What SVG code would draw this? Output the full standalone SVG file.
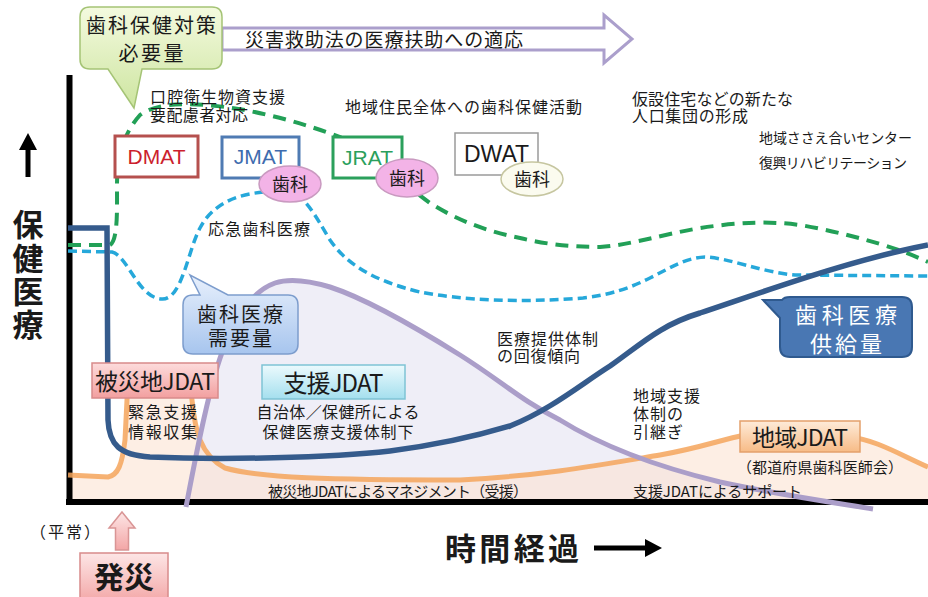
<svg xmlns="http://www.w3.org/2000/svg" width="928" height="597" viewBox="0 0 928 597">
<defs>
<linearGradient id="gGreen" x1="0" y1="0" x2="0" y2="1"><stop offset="0" stop-color="#f4fadf"/><stop offset="1" stop-color="#cde5a0"/></linearGradient>
<linearGradient id="gBlue" x1="0" y1="0" x2="0" y2="1"><stop offset="0" stop-color="#e8f0fc"/><stop offset="1" stop-color="#a7c5ee"/></linearGradient>
<linearGradient id="gPink" x1="0" y1="0" x2="0" y2="1"><stop offset="0" stop-color="#fddcdc"/><stop offset="1" stop-color="#f29f9f"/></linearGradient>
<linearGradient id="gCyan" x1="0" y1="0" x2="0" y2="1"><stop offset="0" stop-color="#ecfafd"/><stop offset="1" stop-color="#a4dfee"/></linearGradient>
<linearGradient id="gOrange" x1="0" y1="0" x2="0" y2="1"><stop offset="0" stop-color="#feebd9"/><stop offset="1" stop-color="#f7bb86"/></linearGradient>
<linearGradient id="gArrow" x1="0" y1="0" x2="0" y2="1"><stop offset="0" stop-color="#fde6e6"/><stop offset="1" stop-color="#f3a6a6"/></linearGradient>
</defs>
<style>
text{font-family:"Noto Sans CJK JP","Noto Sans",sans-serif;fill:#1a1a1a}
.s{font-size:16px}
.xs{font-size:14px}
.mid{text-anchor:middle}
.box{stroke-width:3;fill:#fff}
.team{font-family:"Liberation Sans","Noto Sans",sans-serif;font-size:21px;text-anchor:middle}
.ell{stroke-width:1.5}
.ellt{font-size:18px;text-anchor:middle}
.big{font-size:23px;text-anchor:middle}
.yl{font-size:31px;font-weight:bold;text-anchor:middle}
</style>
<rect width="928" height="597" fill="#fff"/>

<g id="areas">
<path d="M186,502 C195,460 210,380 225,345 C237,318 250,292 275,283 C290,278 310,281 330,287 C370,300 420,330 460,355 C500,380 520,400 560,420 C600,445 650,465 720,482 C780,495 830,500 873,502 Z" fill="#efeef7"/>
<path d="M68,475 L108,477 C118,475 122,465 125,440 L128,380 L190,380 L192,400 C195,430 200,455 225,468 C260,478 330,480 460,480 C540,476 600,465 660,455 C700,448 720,440 745,435 L850,437 C875,440 895,452 928,467 L928,502 L68,502 Z" fill="#fbe3d2" fill-opacity="0.6"/>
</g>

<g id="axes">
<line x1="69.5" y1="75" x2="69.5" y2="505" stroke="#000" stroke-width="6"/>
<line x1="66" y1="502" x2="928" y2="502" stroke="#000" stroke-width="6"/>
</g>

<g id="connectors" fill="none">
<path id="orange" d="M68,475 L108,477 C118,475 122,465 125,440 L128,380 L190,380 L192,400 C195,430 200,455 225,468 C260,478 330,480 460,480 C540,476 600,465 660,455 C700,448 720,440 745,435 L850,437 C875,440 895,452 928,467" stroke="#f4a45c" stroke-width="5" stroke-opacity="0.85"/>
<path id="purple" d="M186,507 C195,460 210,380 225,345 C237,318 250,292 275,283 C290,278 310,281 330,287 C370,300 420,330 460,355 C500,380 520,400 560,420 C600,445 650,465 720,482 C780,495 830,502 873,509" stroke="#ab9ec9" stroke-width="5"/>
<path id="cyan" d="M68,251 L112,252 C128,256 138,298 162,299 C182,300 188,250 200,228 C212,205 235,194 265,192 L290,192 C305,196 315,215 330,240 C345,262 370,280 420,292 C460,300 520,303 583,298 C610,295 630,288 650,278 C670,268 685,258 705,257 C730,258 760,272 795,275 L928,276" stroke="#26a8da" stroke-width="3.5" stroke-dasharray="9 5"/>
<path id="green" d="M68,245 L110,245 C118,240 117,210 117,185 C117,160 122,135 140,115 C155,104 180,103 205,105 C250,108 300,122 340,137 C380,160 405,185 430,203 C460,222 490,232 520,238 C545,244 570,247 600,247 C630,245 660,235 700,228 C740,222 770,221 800,225 C830,230 860,238 880,244 C900,250 915,256 928,262" stroke="#22a057" stroke-width="4" stroke-dasharray="13 8"/>
<path id="blue" d="M68,228 L107,228 L108,420 C109,445 120,455 150,457 C220,460 330,458 390,451 C430,446 470,438 510,426 C550,410 580,385 610,366 C640,345 660,325 700,313 C760,293 850,260 928,245" stroke="#355b8c" stroke-width="5.5"/>
</g>

<g id="top-arrow">
<polygon points="222,28 604,28 604,15 632,39 604,63 604,50 222,50" fill="#fff" stroke="#ab9fcc" stroke-width="3"/>
<text x="245" y="47" font-size="19" textLength="278">災害救助法の医療扶助への適応</text>
</g>

<g id="callout-hoken">
<path d="M90,7 H212 Q222,7 222,17 V59 Q222,69 212,69 H142 L134,108 L108,69 H90 Q80,69 80,59 V17 Q80,7 90,7 Z" fill="url(#gGreen)" stroke="#a5c476" stroke-width="1.5"/>
<text font-size="20" class="mid"><tspan x="151" y="33" textLength="130">歯科保健対策</tspan><tspan x="151" y="61" textLength="65">必要量</tspan></text>
</g>

<g id="y-label">
<path d="M28,133 L37,150 L30.5,150 L30.5,177 L25.5,177 L25.5,150 L19,150 Z" fill="#000"/>
<text class="yl"><tspan x="28" y="236">保</tspan><tspan x="28" y="270">健</tspan><tspan x="28" y="303">医</tspan><tspan x="28" y="336">療</tspan></text>
</g>

<g id="labels-top">
<text class="s"><tspan x="150" y="103" textLength="135">口腔衛生物資支援</tspan><tspan x="150" y="121" textLength="98">要配慮者対応</tspan></text>
<text x="345" y="113" class="s" textLength="237">地域住民全体への歯科保健活動</text>
<text class="s"><tspan x="632" y="105" textLength="161">仮設住宅などの新たな</tspan><tspan x="632" y="122" textLength="116">人口集団の形成</tspan></text>
<text x="759" y="143" class="xs" textLength="153">地域ささえ合いセンター</text>
<text x="759" y="168" class="xs" textLength="148">復興リハビリテーション</text>
<text x="208" y="235" class="s" textLength="102">応急歯科医療</text>
</g>

<g id="dmat">
<rect x="115" y="136" width="83" height="41" class="box" stroke="#b5504e"/>
<text x="156.5" y="164" class="team" style="fill:#cc1f2d">DMAT</text>
</g>
<g id="jmat">
<rect x="222" y="137" width="77" height="41" class="box" stroke="#4f7bb3"/>
<text x="260.5" y="164" class="team" style="fill:#3e6cae">JMAT</text>
<ellipse cx="290" cy="184" rx="31" ry="18" class="ell" fill="#f3b3e7" stroke="#c99ac0"/>
<text x="290" y="191" class="ellt">歯科</text>
</g>
<g id="jrat">
<rect x="333" y="137" width="69" height="41" class="box" stroke="#2ba05c"/>
<text x="367.5" y="165" class="team" style="fill:#2ba05c">JRAT</text>
<ellipse cx="407" cy="178" rx="31" ry="19" class="ell" fill="#f3b3e7" stroke="#c99ac0"/>
<text x="407" y="185" class="ellt">歯科</text>
</g>
<g id="dwat">
<rect x="455" y="133" width="83" height="42" class="box" stroke="#9a9a9a" style="stroke-width:1.5"/>
<text x="496.5" y="162" class="team" style="font-size:23px">DWAT</text>
<ellipse cx="532" cy="179" rx="31" ry="17" class="ell" fill="#fbfbef" stroke="#c6c6a0"/>
<text x="532" y="186" class="ellt">歯科</text>
</g>

<g id="callout-demand">
<path d="M193,295 H200 L190,275 L228,295 H288 Q298,295 298,305 V344 Q298,354 288,354 H193 Q183,354 183,344 V305 Q183,295 193,295 Z" fill="url(#gBlue)" stroke="#7d9dcd" stroke-width="1.5"/>
<text font-size="20" class="mid"><tspan x="240" y="322" textLength="86">歯科医療</tspan><tspan x="240" y="346" textLength="64">需要量</tspan></text>
</g>

<g id="callout-supply">
<path d="M790,297 H902 Q912,297 912,307 V347 Q912,357 902,357 H790 Q780,357 780,347 V318 L763,300 L782,300 Q784,297 790,297 Z" fill="#4977b3" stroke="#2f5a8f" stroke-width="2"/>
<text font-size="22" class="mid" style="fill:#fff"><tspan x="846" y="323" textLength="102">歯科医療</tspan><tspan x="846" y="352" textLength="72">供給量</tspan></text>
</g>

<g id="hisaichi-jdat">
<rect x="92" y="363" width="126" height="35" fill="url(#gPink)" stroke="#d88b8b" stroke-width="1.5"/>
<text x="155" y="390" class="big" textLength="120">被災地JDAT</text>
<text class="s"><tspan x="128" y="418" textLength="69">緊急支援</tspan><tspan x="128" y="438" textLength="69">情報収集</tspan></text>
</g>

<g id="shien-jdat">
<rect x="262" y="365" width="143" height="34" fill="url(#gCyan)" stroke="#7fc3d5" stroke-width="1.5"/>
<text x="333.5" y="392" class="big" style="font-size:24px" textLength="100">支援JDAT</text>
<text class="s mid"><tspan x="338" y="418" textLength="163">自治体／保健所による</tspan><tspan x="338" y="438" textLength="151">保健医療支援体制下</tspan></text>
</g>

<g id="labels-mid">
<text class="s"><tspan x="497" y="345" textLength="101">医療提供体制</tspan><tspan x="497" y="362" textLength="83">の回復傾向</tspan></text>
<text class="s"><tspan x="633" y="402" textLength="67">地域支援</tspan><tspan x="633" y="420" textLength="50">体制の</tspan><tspan x="633" y="438" textLength="50">引継ぎ</tspan></text>
</g>

<g id="chiiki-jdat">
<rect x="740" y="421" width="120" height="31" fill="url(#gOrange)" stroke="#e3a06b" stroke-width="1.5"/>
<text x="800" y="446" class="big" textLength="96">地域JDAT</text>
<text x="737" y="473" font-size="15" textLength="166">（都道府県歯科医師会）</text>
</g>

<g id="labels-bottom">
<text x="268" y="497" font-size="15" textLength="260">被災地JDATによるマネジメント（受援）</text>
<text x="633" y="497" font-size="15" textLength="169">支援JDATによるサポート</text>
</g>

<g id="hassai">
<text x="30" y="538" font-size="16" textLength="70">（平常）</text>
<path d="M122,512 L135,528 L128.5,528 L128.5,550 L115.5,550 L115.5,528 L109,528 Z" fill="url(#gArrow)" stroke="#d99595" stroke-width="1.5"/>
<rect x="80" y="553" width="88" height="50" fill="url(#gArrow)" stroke="#d88b8b" stroke-width="1.5"/>
<text x="124" y="588" font-size="30" font-weight="bold" class="mid">発災</text>
</g>

<g id="time-axis">
<text x="445" y="560" font-size="31" font-weight="bold" textLength="134">時間経過</text>
<line x1="594" y1="548" x2="648" y2="548" stroke="#000" stroke-width="5"/>
<path d="M662,548 L645,539 L645,557 Z" fill="#000"/>
</g>
</svg>
